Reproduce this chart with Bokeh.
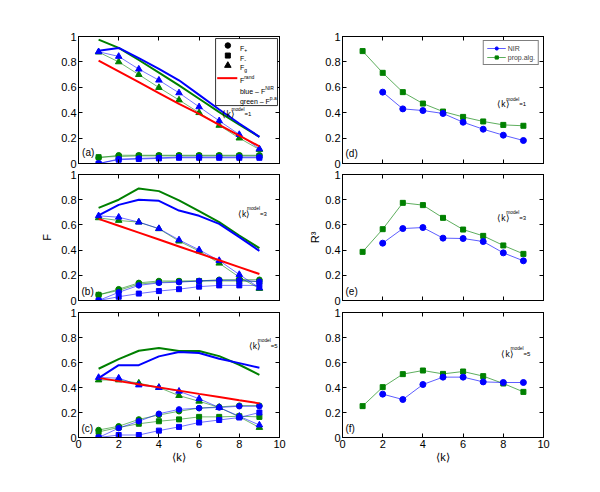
from bokeh.plotting import figure
from bokeh.models import Label, LinearAxis, FixedTicker, BoxAnnotation, Legend, LegendItem, Range1d
from bokeh.layouts import column, row
from bokeh.embed import file_html
from bokeh.resources import INLINE

# ---------------- data ----------------
k = [1, 2, 3, 4, 5, 6, 7, 8, 9]
k_nir = [2, 3, 4, 5, 6, 7, 8, 9]
x_ticks = [0, 2, 4, 6, 8, 10]
x_tick_labels = ["0", "2", "4", "6", "8", "10"]
y_ticks = [0, 0.2, 0.4, 0.6, 0.8, 1]
y_tick_labels = ["0", "0.2", "0.4", "0.6", "0.8", "1"]

# panel (a)  <k>model = 1
a_nir = [0.887, 0.91, 0.83, 0.745, 0.655, 0.54, 0.425, 0.315, 0.21]
a_pa = [0.975, 0.91, 0.815, 0.715, 0.615, 0.51, 0.405, 0.305, 0.21]
a_rand = [0.81, 0.725, 0.64, 0.555, 0.47, 0.39, 0.305, 0.22, 0.135]
a_fg_nir = [0.88, 0.843, 0.743, 0.656, 0.556, 0.446, 0.336, 0.228, 0.115]
a_fg_pa = [0.877, 0.80, 0.70, 0.598, 0.50, 0.40, 0.30, 0.20, 0.11]
a_fp_nir = [0.0, 0.035, 0.04, 0.045, 0.05, 0.05, 0.05, 0.05, 0.05]
a_fm_nir = [0.0, 0.03, 0.035, 0.04, 0.045, 0.045, 0.045, 0.045, 0.045]
a_fp_pa = [0.045, 0.065, 0.065, 0.065, 0.065, 0.065, 0.065, 0.065, 0.065]
a_fm_pa = [0.05, 0.055, 0.06, 0.06, 0.06, 0.06, 0.06, 0.06, 0.06]

# panel (b)  <k>model = 3
b_nir = [0.675, 0.759, 0.80, 0.791, 0.714, 0.672, 0.608, 0.503, 0.394]
b_pa = [0.735, 0.80, 0.889, 0.868, 0.794, 0.709, 0.622, 0.516, 0.415]
b_rand = [0.648, 0.593, 0.539, 0.484, 0.429, 0.374, 0.319, 0.265, 0.21]
b_fg_nir = [0.672, 0.661, 0.622, 0.571, 0.481, 0.402, 0.317, 0.206, 0.10]
b_fg_pa = [0.656, 0.635, 0.622, 0.569, 0.471, 0.392, 0.296, 0.185, 0.095]
b_fp_nir = [0.0, 0.065, 0.12, 0.14, 0.145, 0.155, 0.16, 0.16, 0.15]
b_fm_nir = [0.0, 0.03, 0.055, 0.075, 0.09, 0.11, 0.12, 0.12, 0.12]
b_fp_pa = [0.045, 0.09, 0.14, 0.155, 0.155, 0.155, 0.165, 0.165, 0.165]
b_fm_pa = [0.045, 0.08, 0.13, 0.145, 0.15, 0.155, 0.155, 0.155, 0.15]

# panel (c)  <k>model = 5
c_nir = [0.475, 0.579, 0.579, 0.649, 0.684, 0.676, 0.63, 0.595, 0.558]
c_pa = [0.55, 0.627, 0.694, 0.716, 0.692, 0.692, 0.651, 0.582, 0.501]
c_rand = [0.477, 0.451, 0.426, 0.401, 0.375, 0.349, 0.324, 0.298, 0.273]
c_fg_nir = [0.48, 0.475, 0.42, 0.40, 0.37, 0.31, 0.24, 0.17, 0.10]
c_fg_pa = [0.46, 0.46, 0.435, 0.40, 0.335, 0.29, 0.24, 0.165, 0.08]
c_fp_nir = [0.0, 0.075, 0.13, 0.19, 0.225, 0.235, 0.24, 0.25, 0.25]
c_fm_nir = [0.0, 0.02, 0.02, 0.055, 0.085, 0.12, 0.14, 0.16, 0.20]
c_fp_pa = [0.06, 0.09, 0.145, 0.18, 0.21, 0.235, 0.245, 0.255, 0.255]
c_fm_pa = [0.045, 0.08, 0.11, 0.13, 0.145, 0.165, 0.165, 0.17, 0.165]

# panels (d), (e), (f): R^3
d_pa = [0.885, 0.714, 0.562, 0.472, 0.409, 0.367, 0.331, 0.304, 0.297]
d_nir = [0.562, 0.43, 0.417, 0.394, 0.325, 0.27, 0.223, 0.181]
e_pa = [0.386, 0.566, 0.775, 0.757, 0.656, 0.563, 0.513, 0.437, 0.37]
e_nir = [0.455, 0.571, 0.579, 0.495, 0.492, 0.468, 0.378, 0.315]
f_pa = [0.251, 0.403, 0.507, 0.536, 0.509, 0.528, 0.491, 0.432, 0.365]
f_nir = [0.347, 0.304, 0.424, 0.483, 0.483, 0.445, 0.44, 0.44]

BLUE = "#0000ff"
GREEN = "#008000"
RED = "#ff0000"
FONT = "Liberation Sans"

CW = {'m': .833, 'o': .556, 'd': .556, 'e': .556, 'l': .222, 'i': .222, '=': .584,
      '1': .556, '3': .556, '5': .556, 'k': .5, '⟨': .28, '⟩': .28, 'b': .556,
      'u': .556, ' ': .278, '–': .556, 'F': .611, 'g': .556, 'r': .333, 'n': .556,
      'N': .722, 'I': .278, 'R': .722, 'p': .556, '.': .278, 'a': .556, '+': .584,
      '-': .333, '(': .333, ')': .333}


def tw(s, size):
    return sum(CW.get(c, 0.55) for c in s) * size


def rich(p, x, y, parts):
    off = 0.0
    for txt, size, dy in parts:
        p.add_layout(Label(x=x, y=y, x_offset=off, y_offset=dy, text=txt,
                           text_font_size=f"{size}px", text_font=FONT,
                           text_baseline="alphabetic", text_color="black"))
        off += tw(txt, size)


def style_axis(ax, ticks, labels, show):
    ax.ticker = FixedTicker(ticks=ticks)
    ax.major_tick_in = 4
    ax.major_tick_out = 0
    ax.minor_tick_line_color = None
    ax.axis_line_color = "black"
    ax.axis_line_width = 1
    ax.major_tick_line_color = "black"
    ax.major_label_text_font = FONT
    if show:
        ax.major_label_overrides = {t: l for t, l in zip(ticks, labels)}
        ax.major_label_text_font_size = "11px"
        ax.major_label_text_color = "black"
        ax.major_label_standoff = 2
    else:
        ax.major_label_text_font_size = "1px"
        ax.major_label_text_color = None
        ax.major_label_standoff = 0
    ax.axis_label_text_font = FONT
    ax.axis_label_text_font_style = "normal"
    ax.axis_label_text_font_size = "11px"
    ax.axis_label_text_color = "black"


def make_fig(w, h, left, right, top, bottom, show_x):
    p = figure(width=w, height=h, x_range=Range1d(0, 10), y_range=Range1d(0, 1),
               output_backend="svg", toolbar_location=None,
               min_border_left=left, min_border_right=right,
               min_border_top=top, min_border_bottom=bottom)
    p.xgrid.visible = False
    p.ygrid.visible = False
    p.outline_line_color = "black"
    p.outline_line_width = 1
    p.outline_line_alpha = 1
    p.background_fill_color = "white"
    p.border_fill_color = "white"
    style_axis(p.below[0], x_ticks, x_tick_labels, show_x)
    style_axis(p.left[0], y_ticks, y_tick_labels, True)
    ra = LinearAxis()
    style_axis(ra, y_ticks, y_tick_labels, False)
    p.add_layout(ra, "right")
    ta = LinearAxis()
    style_axis(ta, x_ticks, x_tick_labels, False)
    p.add_layout(ta, "above")
    return p


def left_panel(p, nir, pa, rand, fg_nir, fg_pa, fp_nir, fm_nir, fp_pa, fm_pa):
    for ys, col in [(fp_pa, GREEN), (fm_pa, GREEN), (fg_pa, GREEN),
                    (fp_nir, BLUE), (fm_nir, BLUE), (fg_nir, BLUE)]:
        p.line(k, ys, line_color=col, line_width=0.7, line_alpha=0.8)
    p.scatter(k, fp_pa, marker="circle", size=5.5, fill_color=GREEN, line_color=GREEN)
    p.scatter(k, fm_pa, marker="square", size=5, fill_color=GREEN, line_color=GREEN)
    p.scatter(k, fg_pa, marker="triangle", size=6.5, fill_color=GREEN, line_color=GREEN)
    p.scatter(k, fp_nir, marker="circle", size=5.5, fill_color=BLUE, line_color=BLUE)
    p.scatter(k, fm_nir, marker="square", size=5, fill_color=BLUE, line_color=BLUE)
    p.scatter(k, fg_nir, marker="triangle", size=6.5, fill_color=BLUE, line_color=BLUE)
    p.line(k, rand, line_color=RED, line_width=2)
    p.line(k, pa, line_color=GREEN, line_width=2)
    p.line(k, nir, line_color=BLUE, line_width=2)


def right_panel(p, pa, nir, legend=False):
    lp = p.line(k, pa, line_color=GREEN, line_width=0.8, line_alpha=0.8)
    sp = p.scatter(k, pa, marker="square", size=5, fill_color=GREEN, line_color=GREEN)
    ln = p.line(k_nir, nir, line_color=BLUE, line_width=0.8, line_alpha=0.8)
    sn = p.scatter(k_nir, nir, marker="circle", size=6, fill_color=BLUE, line_color=BLUE)
    if legend:
        lg = Legend(items=[LegendItem(label="NIR", renderers=[ln, sn]),
                           LegendItem(label="prop.alg.", renderers=[lp, sp])],
                    location="top_right", margin=4, padding=3, spacing=1,
                    glyph_width=19, glyph_height=8, label_height=8, label_standoff=2,
                    label_text_font=FONT, label_text_font_size="7px",
                    border_line_color="black", border_line_width=0.8,
                    background_fill_alpha=1.0)
        p.add_layout(lg)


def model_text(p, x, y, n):
    rich(p, x, y, [("⟨k⟩", 8.5, 0), ("model", 4.8, 5), ("=" + n, 6, 0)])


def panel_tag(p, x, y, t):
    p.add_layout(Label(x=x, y=y, text=t, text_font=FONT, text_font_size="10px",
                       text_baseline="alphabetic", text_color="black"))


# page is drawn from the window's top-left corner
LL, LR, RL, RR = 78, 20, 43, 20
WL = LL + 201 + LR
WR = RL + 201 + RR

pa_ = make_fig(WL, 168, LL, LR, 36, 5, False)
pb_ = make_fig(WL, 138, LL, LR, 6, 6, False)
pc_ = make_fig(WL, 171, LL, LR, 6, 40, True)
pd_ = make_fig(WR, 168, RL, RR, 36, 5, False)
pe_ = make_fig(WR, 138, RL, RR, 6, 6, False)
pf_ = make_fig(WR, 171, RL, RR, 6, 40, True)

pb_.left[0].axis_label = "F"
pb_.left[0].axis_label_standoff = 5
pe_.left[0].axis_label = "R³"
pe_.left[0].axis_label_standoff = 1
for p in (pc_, pf_):
    p.below[0].axis_label = "⟨k⟩"
    p.below[0].axis_label_standoff = 0

left_panel(pa_, a_nir, a_pa, a_rand, a_fg_nir, a_fg_pa, a_fp_nir, a_fm_nir, a_fp_pa, a_fm_pa)
left_panel(pb_, b_nir, b_pa, b_rand, b_fg_nir, b_fg_pa, b_fp_nir, b_fm_nir, b_fp_pa, b_fm_pa)
left_panel(pc_, c_nir, c_pa, c_rand, c_fg_nir, c_fg_pa, c_fp_nir, c_fm_nir, c_fp_pa, c_fm_pa)
right_panel(pd_, d_pa, d_nir, legend=True)
right_panel(pe_, e_pa, e_nir)
right_panel(pf_, f_pa, f_nir)

model_text(pa_, 7.16, 0.386, "1")
model_text(pb_, 7.93, 0.688, "3")
model_text(pc_, 8.47, 0.736, "5")
model_text(pd_, 7.70, 0.465, "1")
model_text(pe_, 7.70, 0.656, "3")
model_text(pf_, 7.91, 0.67, "5")

panel_tag(pa_, 0.18, 0.089, "(a)")
panel_tag(pb_, 0.15, 0.074, "(b)")
panel_tag(pc_, 0.15, 0.07, "(c)")
panel_tag(pd_, 0.15, 0.079, "(d)")
panel_tag(pe_, 0.15, 0.074, "(e)")
panel_tag(pf_, 0.15, 0.072, "(f)")

# legend of panel (a), drawn by hand
pa_.add_layout(BoxAnnotation(left=6.82, right=9.9, top=0.984, bottom=0.456, fill_color="white",
                             fill_alpha=1.0, line_color="black", line_width=0.8, line_alpha=1.0))
leg_x_mark = 7.43
leg_x_text = 8.03
leg_rows = [0.929, 0.850, 0.772, 0.672, 0.588, 0.504]
pa_.scatter([leg_x_mark], [leg_rows[0]], marker="circle", size=5.5, color="black", level="overlay")
pa_.scatter([leg_x_mark], [leg_rows[1]], marker="square", size=5, color="black", level="overlay")
pa_.scatter([leg_x_mark], [leg_rows[2]], marker="triangle", size=6.5, color="black", level="overlay")
pa_.line([6.9, 7.9], [leg_rows[3], leg_rows[3]], line_color=RED, line_width=2, level="overlay")
rich(pa_, leg_x_text, leg_rows[0], [("F", 7, -2.5), ("+", 5, -4.5)])
rich(pa_, leg_x_text, leg_rows[1], [("F", 7, -2.5), ("-", 6, -4.5)])
rich(pa_, leg_x_text, leg_rows[2], [("F", 7, -2.5), ("g", 5, -4.5)])
rich(pa_, leg_x_text, leg_rows[3], [("F", 7, -2.5), ("rand", 5, 1)])
rich(pa_, leg_x_text, leg_rows[4], [("blue – F", 7, -2.5), ("NIR", 5, 1)])
rich(pa_, leg_x_text, leg_rows[5], [("green – F", 7, -2.5), ("p.a", 5, 1)])

layout = column(row(pa_, pd_), row(pb_, pe_), row(pc_, pf_))
open("out.html", "w").write(file_html(layout, INLINE))
